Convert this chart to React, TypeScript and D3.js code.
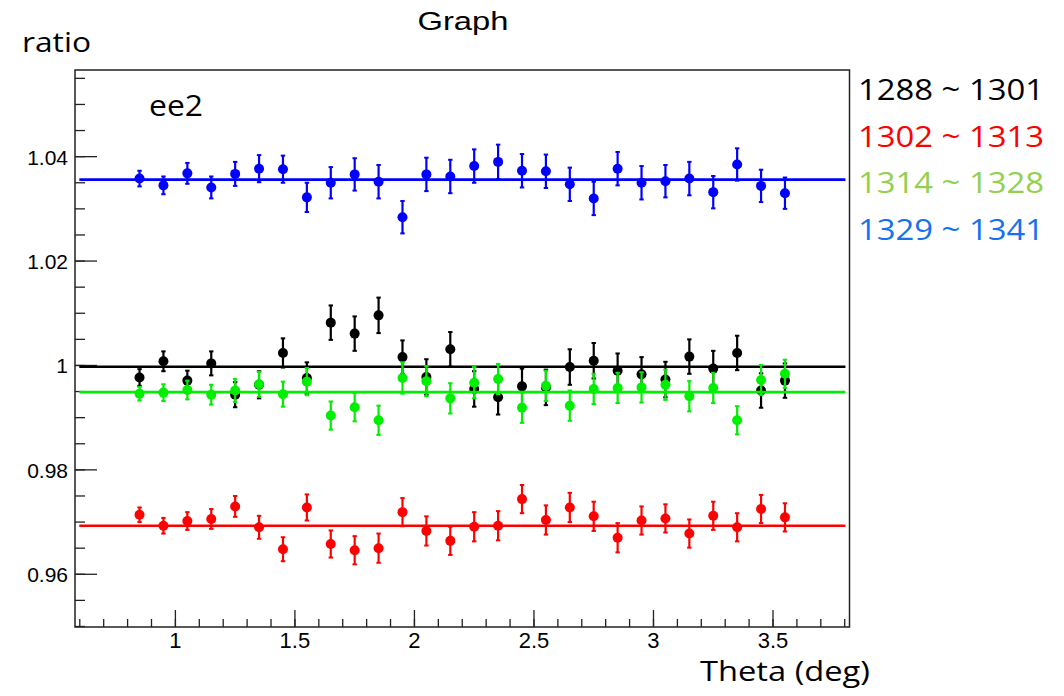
import React from 'react';
import * as d3 from 'd3';

// theta bins (deg)
const thetaBins = [
  0.85, 0.95, 1.05, 1.15, 1.25, 1.35, 1.45, 1.55, 1.65, 1.75, 1.85, 1.95, 2.05, 2.15,
  2.25, 2.35, 2.45, 2.55, 2.65, 2.75, 2.85, 2.95, 3.05, 3.15, 3.25, 3.35, 3.45, 3.55,
];

const blackRatio = [
  0.9977, 1.0008, 0.9971, 1.0004, 0.9944, 0.9963, 1.0024, 0.9976, 1.0082, 1.0061, 1.0096, 1.0016, 0.9978, 1.0031,
  0.9955, 0.9939, 0.996, 0.9958, 0.9997, 1.0009, 0.999, 0.9983, 0.9973, 1.0017, 0.9994, 1.0024, 0.9952, 0.9971,
];
const blackErr = [
  0.0016, 0.0019, 0.0019, 0.0023, 0.0024, 0.0026, 0.0028, 0.003, 0.0033, 0.0033, 0.0034, 0.0032, 0.0034, 0.0033,
  0.0034, 0.0033, 0.0034, 0.0034, 0.0034, 0.0034, 0.0033, 0.0033, 0.0034, 0.0033, 0.0034, 0.0033, 0.0033, 0.0033,
];

const redRatio = [
  0.9714, 0.9693, 0.9702, 0.9706, 0.973, 0.969, 0.9648, 0.9728, 0.9658, 0.9646, 0.965, 0.9719, 0.9683, 0.9664,
  0.9691, 0.9693, 0.9744, 0.9704, 0.9728, 0.9711, 0.967, 0.9703, 0.9707, 0.9678, 0.9712, 0.969, 0.9725, 0.9709,
];
const redErr = [
  0.0014, 0.0015, 0.0017, 0.0019, 0.002, 0.0022, 0.0023, 0.0025, 0.0026, 0.0027, 0.0028, 0.0027, 0.0028, 0.0027,
  0.0028, 0.0028, 0.0027, 0.0028, 0.0028, 0.0028, 0.0028, 0.0027, 0.0027, 0.0027, 0.0027, 0.0027, 0.0027, 0.0027,
];

const greenRatio = [
  0.9946, 0.9948, 0.9953, 0.9944, 0.9952, 0.9964, 0.9945, 0.9969, 0.9904, 0.992, 0.9895, 0.9976, 0.997, 0.9937,
  0.9967, 0.9974, 0.9919, 0.9961, 0.9923, 0.9955, 0.9957, 0.9958, 0.9963, 0.9941, 0.9957, 0.9895, 0.9972, 0.9984,
];
const greenErr = [
  0.0013, 0.0016, 0.0018, 0.0019, 0.0022, 0.0024, 0.0024, 0.0026, 0.0027, 0.0027, 0.0028, 0.003, 0.0029, 0.0029,
  0.003, 0.0029, 0.0029, 0.0029, 0.0029, 0.0029, 0.0029, 0.0029, 0.0029, 0.0029, 0.0029, 0.0027, 0.0029, 0.0027,
];

const blueRatio = [
  1.0358, 1.0345, 1.0368, 1.0341, 1.0367, 1.0377, 1.0376, 1.0322, 1.035, 1.0366, 1.0352, 1.0284, 1.0366, 1.0362,
  1.0382, 1.039, 1.0373, 1.0372, 1.0347, 1.032, 1.0377, 1.035, 1.0353, 1.0358, 1.0332, 1.0385, 1.0344, 1.033,
];
const blueErr = [
  0.0015, 0.0017, 0.002, 0.0021, 0.0023, 0.0026, 0.0026, 0.0028, 0.003, 0.0031, 0.0032, 0.0031, 0.0032, 0.0032,
  0.0032, 0.0033, 0.0032, 0.0032, 0.0032, 0.0032, 0.0032, 0.0032, 0.0031, 0.0032, 0.0031, 0.0031, 0.0031, 0.003,
];

// constant fit levels (pol0)
const fitLevels = [0.99975, 0.9693, 0.9949, 1.0356];
const fitRange = [0.598, 3.803];

const runLabels = ['1288 ~ 1301', '1302 ~ 1313', '1314 ~ 1328', '1329 ~ 1341'];
const markerColors = ['#000000', '#ff0000', '#00ee00', '#0000ff'];
const labelColors = ['#000000', '#ff0000', '#92d050', '#1670f0'];

const xMajorTicks = [1, 1.5, 2, 2.5, 3, 3.5];
const yMajorTicks = [0.96, 0.98, 1, 1.02, 1.04];

const series = [
  { ratio: blackRatio, err: blackErr },
  { ratio: redRatio, err: redErr },
  { ratio: greenRatio, err: greenErr },
  { ratio: blueRatio, err: blueErr },
];

const W = 1064;
const H = 696;
const left = 75;
const right = 849.5;
const top = 70;
const bottom = 627;

const rootFont = '"Liberation Sans", Arial, Helvetica, sans-serif';
const pptFont = '"Open Sans", "Noto Sans", sans-serif';

export default function App() {
  const x = d3.scaleLinear().domain([0.58, 3.82]).range([left, right]);
  const y = d3.scaleLinear().domain([0.9499, 1.0566]).range([bottom, top]);

  const xMinor = d3.range(6, 39).map(d => d / 10);
  const yMinor = d3.range(190, 212).map(d => d / 200);
  const fmt = (v: number) => String(+v.toFixed(3));
  const capW = 2.2;

  return (
    <svg
      width={W}
      height={H}
      style={{ position: 'absolute', left: 0, top: 0, background: '#fff' }}
    >
      {/* title + axis titles */}
      <text x={463} y={30} fontFamily={rootFont} fontSize={26} textAnchor="middle" textLength={91} lengthAdjust="spacingAndGlyphs">
        Graph
      </text>
      <text x={22} y={52} fontFamily={pptFont} fontSize={28} textLength={69} lengthAdjust="spacingAndGlyphs">
        ratio
      </text>
      <text x={700} y={681} fontFamily={pptFont} fontSize={28} textLength={170} lengthAdjust="spacingAndGlyphs">
        Theta (deg)
      </text>
      <text x={149} y={116} fontFamily={pptFont} fontSize={29} textLength={54} lengthAdjust="spacingAndGlyphs">
        ee2
      </text>

      {/* legend */}
      {runLabels.map((lab, i) => (
        <text
          key={lab}
          x={858}
          y={100 + i * 46.7}
          fontFamily={pptFont}
          fontSize={30}
          fill={labelColors[i]}
          textLength={186}
          lengthAdjust="spacingAndGlyphs"
        >
          {lab}
        </text>
      ))}

      {/* frame */}
      <rect x={left} y={top} width={right - left} height={bottom - top} fill="none" stroke="#222" strokeWidth={1.5} />

      {/* x axis ticks */}
      {xMinor.map(t => (
        <line key={'xm' + t} x1={x(t)} x2={x(t)} y1={bottom} y2={bottom - 8} stroke="#222" strokeWidth={1.3} />
      ))}
      {xMajorTicks.map(t => (
        <g key={'xM' + t}>
          <line x1={x(t)} x2={x(t)} y1={bottom} y2={bottom - 17} stroke="#222" strokeWidth={1.3} />
          <text x={x(t)} y={648} fontFamily={rootFont} fontSize={22} textAnchor="middle">
            {fmt(t)}
          </text>
        </g>
      ))}

      {/* y axis ticks */}
      {yMinor.map(t => (
        <line key={'ym' + t} x1={left} x2={left + 10} y1={y(t)} y2={y(t)} stroke="#222" strokeWidth={1.3} />
      ))}
      {yMajorTicks.map(t => (
        <g key={'yM' + t}>
          <line x1={left} x2={left + 22} y1={y(t)} y2={y(t)} stroke="#222" strokeWidth={1.3} />
          <text x={68} y={y(t) + 8} fontFamily={rootFont} fontSize={21} textAnchor="end">
            {fmt(t)}
          </text>
        </g>
      ))}

      {/* graphs */}
      {series.map((s, si) => (
        <g key={'s' + si} stroke={markerColors[si]} fill={markerColors[si]}>
          <line
            x1={x(fitRange[0])}
            x2={x(fitRange[1])}
            y1={y(fitLevels[si])}
            y2={y(fitLevels[si])}
            strokeWidth={2.7}
          />
          {thetaBins.map((t, i) => {
            const cx = x(t);
            const y0 = y(s.ratio[i] - s.err[i]);
            const y1 = y(s.ratio[i] + s.err[i]);
            return (
              <g key={i}>
                <line x1={cx} x2={cx} y1={y0} y2={y1} strokeWidth={2.2} />
                <line x1={cx - capW} x2={cx + capW} y1={y0} y2={y0} strokeWidth={2} />
                <line x1={cx - capW} x2={cx + capW} y1={y1} y2={y1} strokeWidth={2} />
                <circle cx={cx} cy={y(s.ratio[i])} r={5} stroke="none" />
              </g>
            );
          })}
        </g>
      ))}
    </svg>
  );
}
